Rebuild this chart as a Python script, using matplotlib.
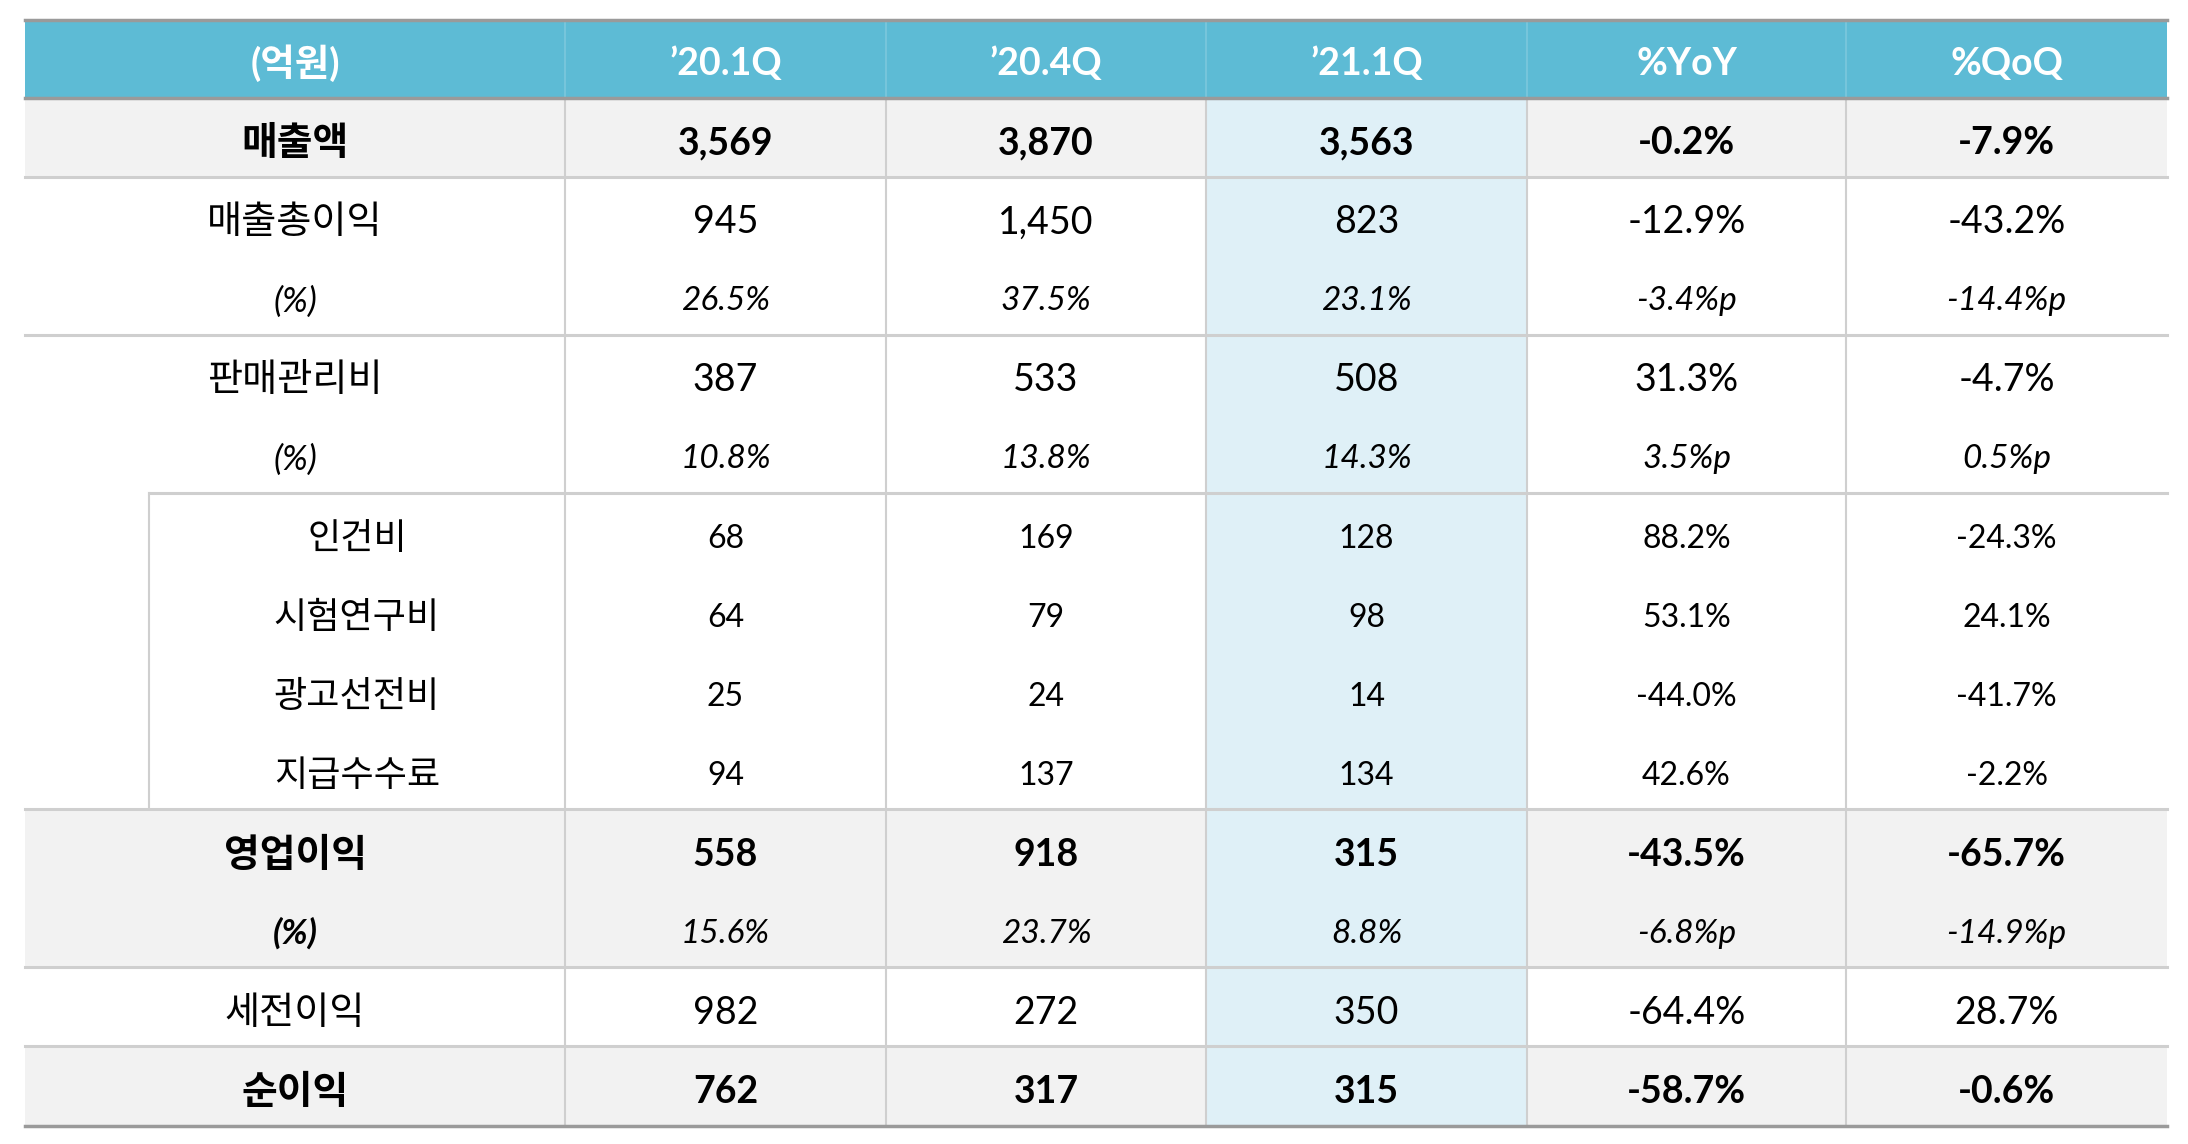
#!/usr/bin/env python3
import matplotlib.pyplot as plt
from matplotlib.patches import Rectangle

plt.rcParams["font.family"] = ["Lato", "Noto Sans CJK KR", "DejaVu Sans"]

headers = ["(억원)", "’20.1Q", "’20.4Q", "’21.1Q", "%YoY", "%QoQ"]
labels = ["매출액", "매출총이익", "(%)", "판매관리비", "(%)", "인건비", "시험연구비",
          "광고선전비", "지급수수료", "영업이익", "(%)", "세전이익", "순이익"]
q20_1 = ["3,569", "945", "26.5%", "387", "10.8%", "68", "64", "25", "94",
         "558", "15.6%", "982", "762"]
q20_4 = ["3,870", "1,450", "37.5%", "533", "13.8%", "169", "79", "24", "137",
         "918", "23.7%", "272", "317"]
q21_1 = ["3,563", "823", "23.1%", "508", "14.3%", "128", "98", "14", "134",
         "315", "8.8%", "350", "315"]
yoy = ["-0.2%", "-12.9%", "-3.4%p", "31.3%", "3.5%p", "88.2%", "53.1%", "-44.0%",
       "42.6%", "-43.5%", "-6.8%p", "-64.4%", "-58.7%"]
qoq = ["-7.9%", "-43.2%", "-14.4%p", "-4.7%", "0.5%p", "-24.3%", "24.1%", "-41.7%",
       "-2.2%", "-65.7%", "-14.9%p", "28.7%", "-0.6%"]

# row kinds: b = bold total, n = normal, p = italic percent, s = sub item
kinds = ["b", "n", "p", "n", "p", "s", "s", "s", "s", "b", "pb", "n", "b"]
grey_rows = [0, 9, 10, 12]

cols = [q20_1, q20_4, q21_1, yoy, qoq]

W, H = 2188, 1144
x_edges = [25, 565, 886, 1206, 1527, 1846, 2167]
x_sub = 149
y_top, y_head = 19.5, 97.7
rh = (1125.5 - y_head) / len(labels)

head_col = "#5DBBD5"
grey = "#F2F2F2"
hilite = "#DFF0F7"
line_c = "#CFCFCF"
border_c = "#9A9A9A"

fig = plt.figure(figsize=(W / 100, H / 100), dpi=100)
ax = fig.add_axes([0, 0, 1, 1])
ax.set_xlim(0, W)
ax.set_ylim(H, 0)
ax.axis("off")

# header band
ax.add_patch(Rectangle((x_edges[0], y_top), x_edges[-1] - x_edges[0], y_head - y_top,
                       color=head_col, lw=0))
for x in x_edges[1:-1]:
    ax.plot([x, x], [y_top, y_head], color="#7CC8DD", lw=1.2)
for i, h in enumerate(headers):
    ax.text((x_edges[i] + x_edges[i + 1]) / 2, (y_top + y_head) / 2 + 5, h,
            color="white", fontsize=27, fontweight="bold", ha="center", va="center")

y_bot = y_head + rh * len(labels)

# backgrounds
for r in grey_rows:
    ax.add_patch(Rectangle((x_edges[0], y_head + r * rh), x_edges[-1] - x_edges[0], rh,
                           color=grey, lw=0))
ax.add_patch(Rectangle((x_edges[3], y_head), x_edges[4] - x_edges[3], y_bot - y_head,
                       color=hilite, lw=0))

# grid lines
for x in x_edges[1:-1]:
    ax.plot([x, x], [y_head, y_bot], color=line_c, lw=1.5)
for r in [1, 3, 9, 11, 12]:
    y = y_head + r * rh
    ax.plot([x_edges[0], x_edges[-1]], [y, y], color=line_c, lw=2.2)
ax.plot([x_sub, x_edges[-1]], [y_head + 5 * rh] * 2, color=line_c, lw=2.2)
ax.plot([x_sub, x_sub], [y_head + 5 * rh, y_head + 9 * rh], color=line_c, lw=1.5)
ax.plot([x_edges[0], x_edges[-1]], [y_top, y_top], color=border_c, lw=2.5)
ax.plot([x_edges[0], x_edges[-1]], [y_head, y_head], color=border_c, lw=2.5)
ax.plot([x_edges[0], x_edges[-1]], [y_bot, y_bot], color=border_c, lw=2.5)

# cell text
for r, lab in enumerate(labels):
    k = kinds[r]
    yc = y_head + (r + 0.5) * rh + 6
    if k == "b":
        lkw = dict(fontsize=28, fontweight="bold")
        vkw = dict(fontsize=27, fontweight="bold")
    elif k == "n":
        lkw = dict(fontsize=27.5)
        vkw = dict(fontsize=27)
    elif k == "p":
        lkw = dict(fontsize=25, style="italic")
        vkw = dict(fontsize=24, style="italic")
    elif k == "pb":
        lkw = dict(fontsize=25, style="italic", fontweight="bold")
        vkw = dict(fontsize=24, style="italic")
    else:
        lkw = dict(fontsize=26)
        vkw = dict(fontsize=23)
    x0 = x_sub if k == "s" else x_edges[0]
    ax.text((x0 + x_edges[1]) / 2, yc, lab, ha="center", va="center", color="black", **lkw)
    for c, vals in enumerate(cols):
        ax.text((x_edges[c + 1] + x_edges[c + 2]) / 2, yc, vals[r], ha="center",
                va="center", color="black", **vkw)

fig.savefig("out.png", dpi=100, facecolor="white")
